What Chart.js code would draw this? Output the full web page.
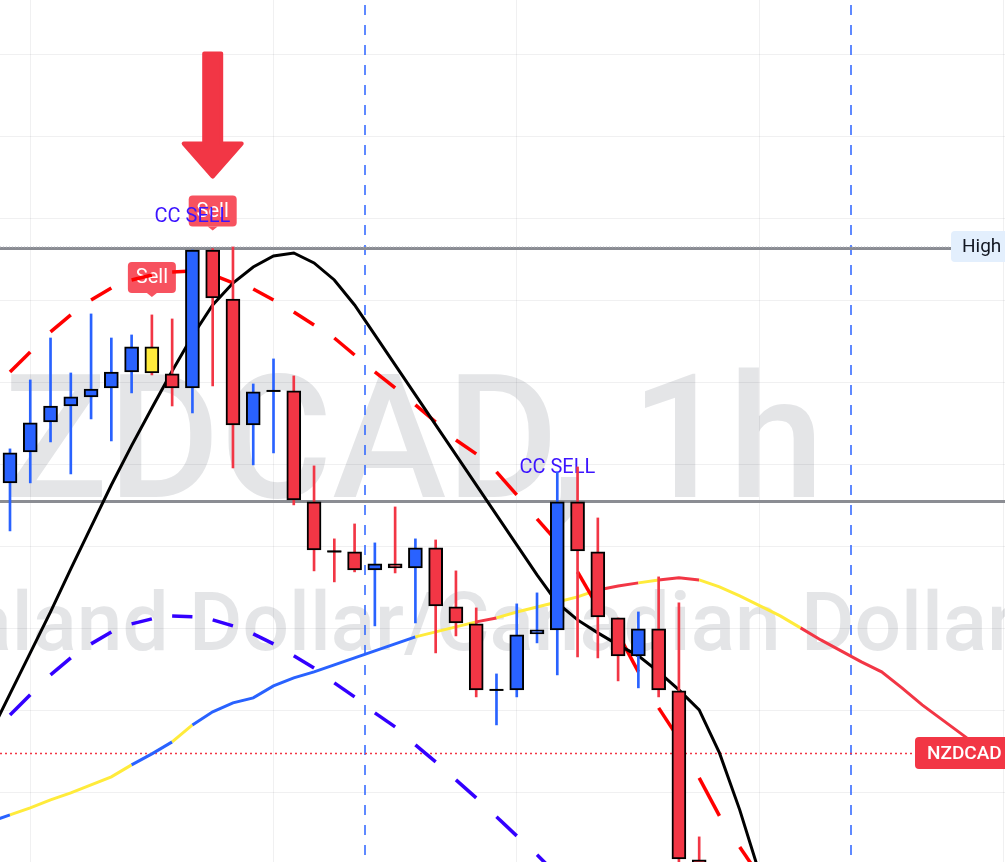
<!DOCTYPE html>
<html>
<head>
<meta charset="utf-8">
<title>NZDCAD, 1h</title>
<script src="https://cdn.jsdelivr.net/npm/chart.js@4.4.1/dist/chart.umd.min.js"></script>
<style>
  html, body { margin: 0; padding: 0; background: #fff; }
  #wrap { width: 1005px; height: 862px; position: relative; }
</style>
</head>
<body>
<div id="wrap"><canvas id="chart"></canvas></div>
<script>
/* =========================================================
   DATA  (prices in pips-like units, bar numbers on x)
========================================================= */
// candles start at bar 1
const candleOpen  = [47.76, 51.53, 55.18, 57.13, 58.23, 59.33, 61.27, 64.32, 61.03, 59.33, 76.13, 70.16, 54.82, 58.96, 58.96, 45.44, 39.47, 39.35, 37.16, 37.89, 37.40, 39.84, 32.65, 30.58, 22.54, 22.54, 29.37, 29.85, 45.44, 39.35, 31.31, 26.69, 29.97, 22.42, 1.84];
const candleHigh  = [51.90, 60.30, 65.41, 61.15, 68.34, 65.41, 65.78, 68.22, 67.73, 76.13, 76.30, 76.50, 59.81, 62.86, 60.79, 49.83, 40.94, 42.76, 40.45, 44.83, 40.94, 40.81, 37.04, 32.53, 24.49, 33.02, 34.36, 49.09, 49.70, 43.49, 31.31, 32.04, 36.31, 33.14, 4.64];
const candleLow   = [41.91, 47.76, 52.75, 48.85, 55.55, 52.87, 58.72, 60.91, 57.13, 56.28, 59.57, 49.58, 49.95, 51.41, 45.08, 37.04, 35.70, 36.92, 30.34, 36.79, 30.70, 27.05, 29.12, 21.69, 18.28, 21.69, 28.27, 24.37, 26.56, 26.44, 23.64, 22.79, 21.69, -0.60, -6.68];
const candleClose = [51.41, 55.06, 57.13, 58.23, 59.20, 61.27, 64.32, 61.15, 59.33, 76.13, 70.29, 54.82, 58.84, 58.96, 45.68, 39.60, 39.40, 37.16, 37.89, 37.40, 39.84, 32.78, 30.70, 22.54, 22.54, 29.24, 29.85, 45.44, 39.47, 31.44, 26.69, 29.97, 22.54, 1.96, -3.64];
const yellowBars  = [8];

// indicator lines start at bar 0
const fastLine  = [17.06, 22.06, 27.05, 32.04, 37.28, 42.40, 47.50, 52.30, 56.89, 61.40, 65.66, 69.43, 72.11, 74.06, 75.40, 75.77, 74.55, 72.48, 69.43, 65.78, 62.13, 58.47, 54.82, 51.17, 47.51, 43.86, 40.20, 36.55, 33.14, 31.07, 29.49, 28.03, 26.69, 24.74, 22.54, 20.11, 14.87, 7.93, 0.01];
const upperBand = [58.84, 61.27, 63.71, 66.15, 68.22, 70.04, 71.50, 72.48, 73.09, 73.45, 73.57, 73.09, 72.11, 71.38, 70.04, 68.58, 67.00, 65.41, 63.34, 61.27, 59.33, 57.26, 55.18, 52.99, 51.29, 49.10, 46.29, 43.37, 40.57, 36.92, 32.65, 29.37, 24.74, 20.35, 16.58, 11.83, 7.20, 3.42, -0.23];
const lowerBand = [17.06, 19.50, 21.94, 24.37, 26.44, 28.15, 29.61, 30.58, 31.19, 31.56, 31.44, 31.07, 30.34, 29.37, 28.15, 26.69, 25.22, 23.40, 21.69, 19.74, 18.04, 15.85, 13.78, 11.58, 9.39, 7.08, 4.76, 2.45, 0.01];
const trendMA   = [6.47, 7.32, 8.17, 9.15, 10.00, 10.97, 11.95, 13.41, 14.75, 16.21, 18.28, 19.87, 20.96, 21.57, 23.03, 24.01, 24.74, 25.59, 26.44, 27.29, 28.15, 29.00, 29.61, 30.22, 30.83, 31.31, 32.04, 32.65, 33.26, 33.87, 34.72, 35.21, 35.58, 35.94, 36.19, 35.94, 35.09, 33.99, 32.78, 31.56, 30.10, 28.63, 27.29, 25.96, 24.74, 22.79, 20.72, 18.89, 17.06, 15.24];
// trend state of each MA segment: U up, N neutral, D down
const trendState = ['U','N','N','N','N','N','N','U','U','N','U','U','U','U','U','U','U','U','U','U','U','N','N','N','D','N','N','N','N','N','D','D','N','D','D','N','N','N','N','N','D','D','D','D','D','D','D','D','D'];

// levels and signals
const highLevel   = 76.38;
const closeLevel  = 45.56;
const lastPrice   = 14.87;
const sessionBreaks = [18.5, 42.5];
const gridBarsX   = [2, 14, 26, 38, 50];
const gridLevelsY = [10, 20, 30, 40, 50, 60, 70, 80, 90, 100];
const sellBars    = [8, 11];
const ccSellBars  = [10, 28];
const ccSellLevel = [79.54, 48.97];
const arrowBar    = 11;

/* =========================================================
   HELPERS
========================================================= */
const BLUE = "#2962ff";
const RED = "#f23645";
const YELLOW = "#ffeb3b";
const TREND_COLORS = { U: BLUE, N: YELLOW, D: RED };
const NONE = "rgba(0,0,0,0)";

const candles = candleOpen.map((o, i) => ({
  x: i + 1, o, h: candleHigh[i], l: candleLow[i], c: candleClose[i]
}));
const candleColor = k => {
  if (yellowBars.includes(k.x)) return YELLOW;
  return k.c >= k.o ? BLUE : RED;
};
const toPoints = arr => arr.map((y, i) => ({ x: i, y }));

function roundBox(ctx, x, y, w, h, r) {
  ctx.beginPath();
  ctx.moveTo(x + r, y);
  ctx.arcTo(x + w, y, x + w, y + h, r);
  ctx.arcTo(x + w, y + h, x, y + h, r);
  ctx.arcTo(x, y + h, x, y, r);
  ctx.arcTo(x, y, x + w, y, r);
  ctx.closePath();
}

function hLine(ctx, area, y, color, width, dash) {
  ctx.save();
  ctx.strokeStyle = color;
  ctx.lineWidth = width;
  ctx.setLineDash(dash || []);
  ctx.beginPath();
  ctx.moveTo(area.left, y);
  ctx.lineTo(area.right, y);
  ctx.stroke();
  ctx.restore();
}

/* =========================================================
   DRAWING PLUGIN (watermark, levels, signals, labels)
========================================================= */
const decorations = {
  id: "decorations",
  beforeDraw(chart) {
    const ctx = chart.ctx;
    ctx.save();
    ctx.fillStyle = "#ffffff";
    ctx.fillRect(0, 0, chart.width, chart.height);
    ctx.fillStyle = "rgba(120,123,134,0.2)";
    ctx.textBaseline = "alphabetic";
    ctx.textAlign = "left";
    ctx.font = "500 172px Roboto";
    ctx.fillText("NZDCAD, 1h", 4 - ctx.measureText("N").width, 497);
    ctx.font = "500 82px Roboto";
    ctx.fillText("New Zealand Dollar/Canadian Dollar", 189 - ctx.measureText("New Zealand ").width, 650);
    ctx.restore();
  },
  beforeDatasetsDraw(chart) {
    const { ctx, chartArea: area, scales: { x, y } } = chart;

    // session breaks
    ctx.save();
    ctx.strokeStyle = "rgba(41,98,255,0.75)";
    ctx.lineWidth = 2;
    ctx.setLineDash([10, 10]);
    sessionBreaks.forEach(b => {
      const px = Math.round(x.getPixelForValue(b));
      ctx.beginPath();
      ctx.moveTo(px, 5);
      ctx.lineTo(px, area.bottom);
      ctx.stroke();
    });
    ctx.restore();

    // horizontal levels
    const hy = Math.round(y.getPixelForValue(highLevel));
    hLine(ctx, area, hy + 0.5, "#8a8c93", 3);
    hLine(ctx, area, hy - 1, "#b2b5be", 1, [1, 2]);
    hLine(ctx, area, Math.round(y.getPixelForValue(closeLevel)) + 0.5, "#8b8d93", 3);
    hLine(ctx, area, Math.round(y.getPixelForValue(lastPrice)) + 0.5, RED, 1.5, [2, 3]);

    // Sell labels
    ctx.save();
    sellBars.forEach(b => {
      const k = candles.find(c => c.x === b);
      const cx = x.getPixelForValue(b);
      const tip = y.getPixelForValue(k.h) - 18;
      const bottom = tip - 4, w = 48, h = 31;
      ctx.fillStyle = "#f7525f";
      roundBox(ctx, cx - w / 2, bottom - h, w, h, 4);
      ctx.fill();
      ctx.beginPath();
      ctx.moveTo(cx - 5, bottom);
      ctx.lineTo(cx + 5, bottom);
      ctx.lineTo(cx, tip);
      ctx.closePath();
      ctx.fill();
      ctx.fillStyle = "#ffffff";
      ctx.font = "20px Roboto";
      ctx.textAlign = "center";
      ctx.textBaseline = "middle";
      ctx.fillText("Sell", cx, bottom - h / 2 + 1);
    });

    // CC SELL texts
    ctx.fillStyle = "#3c14ff";
    ctx.font = "20px Roboto";
    ctx.textAlign = "center";
    ctx.textBaseline = "alphabetic";
    ccSellBars.forEach((b, i) => {
      ctx.fillText("CC SELL", x.getPixelForValue(b), y.getPixelForValue(ccSellLevel[i]));
    });

    // big arrow
    const ak = candles.find(c => c.x === arrowBar);
    const ax = x.getPixelForValue(arrowBar);
    const tipY = y.getPixelForValue(ak.h) - 70;
    ctx.fillStyle = RED;
    ctx.strokeStyle = RED;
    ctx.lineWidth = 4;
    ctx.lineJoin = "round";
    ctx.beginPath();
    ctx.moveTo(ax - 8.5, tipY - 125);
    ctx.lineTo(ax + 8.5, tipY - 125);
    ctx.lineTo(ax + 8.5, tipY - 35);
    ctx.lineTo(ax + 29, tipY - 35);
    ctx.lineTo(ax, tipY - 2);
    ctx.lineTo(ax - 29, tipY - 35);
    ctx.lineTo(ax - 8.5, tipY - 35);
    ctx.closePath();
    ctx.fill();
    ctx.stroke();
    ctx.restore();
  },
  afterDraw(chart) {
    const { ctx, scales: { y } } = chart;
    ctx.save();
    // High label
    const hy = y.getPixelForValue(highLevel);
    ctx.fillStyle = "#e3effd";
    roundBox(ctx, 951, hy - 17, 70, 31, 4);
    ctx.fill();
    ctx.fillStyle = "#131722";
    ctx.font = "19px Roboto";
    ctx.textBaseline = "middle";
    ctx.textAlign = "left";
    ctx.fillText("High", 962, hy - 1);
    // last price label
    const ly = y.getPixelForValue(lastPrice);
    ctx.fillStyle = RED;
    roundBox(ctx, 915, ly - 16, 110, 32, 4);
    ctx.fill();
    ctx.fillStyle = "#ffffff";
    ctx.font = "500 19px Roboto";
    ctx.fillText("NZDCAD", 927, ly + 1);
    ctx.restore();
  }
};

/* =========================================================
   CHART
========================================================= */
const dojis = candles.filter(k => Math.abs(k.o - k.c) < 0.1);

new Chart(document.getElementById("chart"), {
  type: "bar",
  data: {
    datasets: [
      {
        type: "line",
        data: dojis.map(k => ({ x: k.x, y: k.c })),
        showLine: false,
        pointStyle: "line",
        pointRadius: 7,
        pointBorderWidth: 2,
        pointBorderColor: "#000",
        order: 1
      },
      {
        data: candles.map(k => ({ x: k.x, y: [k.o, k.c] })),
        backgroundColor: candles.map(candleColor),
        borderColor: "#000",
        borderWidth: 2,
        borderSkipped: false,
        barThickness: 14,
        grouped: false,
        order: 2
      },
      {
        data: candles.map(k => ({ x: k.x, y: [k.l, k.h] })),
        backgroundColor: candles.map(k => (k.c >= k.o ? BLUE : RED)),
        borderWidth: 0,
        barThickness: 2,
        grouped: false,
        order: 3
      },
      {
        type: "line",
        data: toPoints(fastLine),
        borderColor: "#000",
        borderWidth: 3,
        pointRadius: 0,
        tension: 0,
        order: 10
      },
      {
        type: "line",
        data: toPoints(upperBand),
        borderColor: "#ff0000",
        borderWidth: 3.5,
        borderCapStyle: "butt",
        pointRadius: 0,
        tension: 0,
        segment: { borderColor: c => (c.p0DataIndex % 2 === 1 ? "#ff0000" : NONE) },
        order: 11
      },
      {
        type: "line",
        data: toPoints(lowerBand),
        borderColor: "#3300ff",
        borderWidth: 3.5,
        borderCapStyle: "butt",
        pointRadius: 0,
        tension: 0,
        segment: { borderColor: c => (c.p0DataIndex % 2 === 1 ? "#3300ff" : NONE) },
        order: 12
      },
      {
        type: "line",
        data: toPoints(trendMA),
        borderColor: BLUE,
        borderWidth: 3,
        pointRadius: 0,
        tension: 0,
        segment: { borderColor: c => TREND_COLORS[trendState[c.p0DataIndex]] },
        order: 13
      }
    ]
  },
  options: {
    responsive: true,
    maintainAspectRatio: false,
    animation: false,
    events: [],
    layout: { padding: 0, autoPadding: false },
    plugins: {
      legend: { display: false },
      tooltip: { enabled: false }
    },
    scales: {
      x: {
        type: "linear",
        min: 0.507,
        max: 50.087,
        offset: false,
        grid: { offset: false, color: "rgba(42,46,57,0.07)", drawTicks: false },
        border: { display: false },
        ticks: { display: false },
        afterBuildTicks: s => { s.ticks = gridBarsX.map(v => ({ value: v })); },
        afterFit: s => { s.height = 0; }
      },
      y: {
        type: "linear",
        min: 1.58,
        max: 106.58,
        grid: { color: "rgba(42,46,57,0.07)", drawTicks: false },
        border: { display: false },
        ticks: { display: false },
        afterBuildTicks: s => { s.ticks = gridLevelsY.map(v => ({ value: v })); },
        afterFit: s => { s.width = 0; }
      }
    }
  },
  plugins: [decorations]
});
</script>
</body>
</html>
